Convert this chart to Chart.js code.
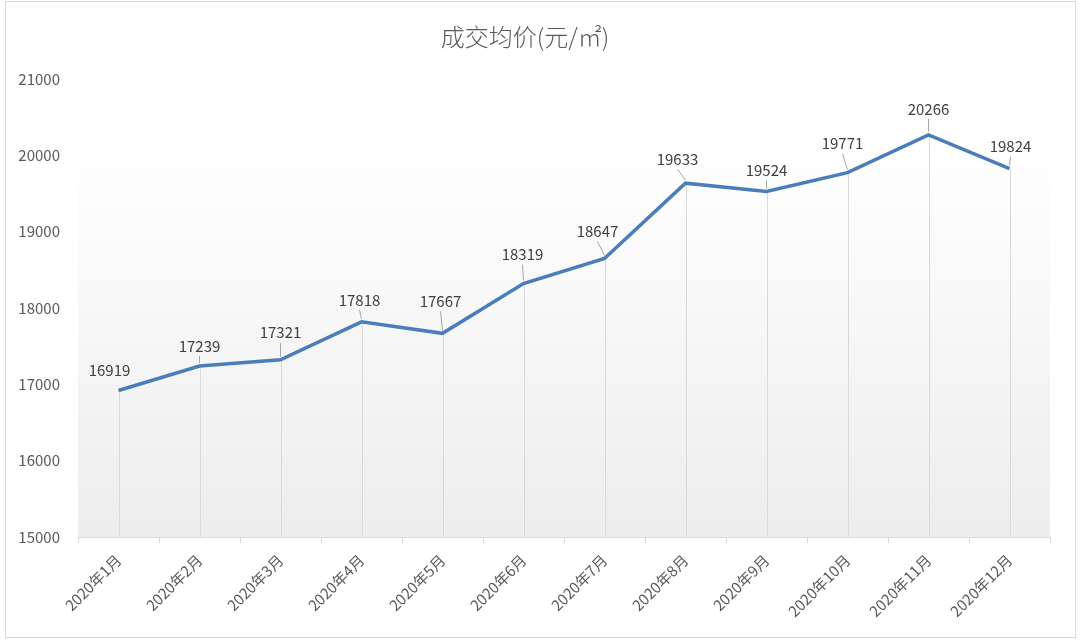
<!DOCTYPE html>
<html>
<head>
<meta charset="utf-8">
<script src="https://cdn.jsdelivr.net/npm/chart.js@4.4.0/dist/chart.umd.min.js"></script>
<style>
  html, body { margin: 0; padding: 0; background: #fff; }
  #wrap { width: 1080px; height: 644px; position: relative; }
</style>
</head>
<body>
<div id="wrap"><canvas id="chart" width="1080" height="644"></canvas></div>
<script>
var months = ['2020年1月', '2020年2月', '2020年3月', '2020年4月', '2020年5月', '2020年6月',
  '2020年7月', '2020年8月', '2020年9月', '2020年10月', '2020年11月', '2020年12月'];
var avgPrice = [16919, 17239, 17321, 17818, 17667, 18319, 18647, 19633, 19524, 19771, 20266, 19824];
var yTicks = [15000, 16000, 17000, 18000, 19000, 20000, 21000];

// where each data label sits relative to its point (like Excel dragged labels)
var labelShift = [[-9, -20, 0], [0, -20, 1], [0, -27, 1], [-2, -22, 1], [-2, -32, 1], [-1, -29, 1],
  [-7, -27, 1], [-8, -24, 1], [0, -21, 1], [-5, -29, 1], [0, -26, 1], [1, -22, 1]];

var FONT = '"Noto Sans CJK SC", "Noto Sans", sans-serif';

var decor = {
  id: 'decor',
  beforeDraw: function (c) {
    var ctx = c.ctx, a = c.chartArea;
    ctx.save();
    var g = ctx.createLinearGradient(0, a.top, 0, a.bottom);
    g.addColorStop(0, '#ffffff');
    g.addColorStop(0.15, '#ffffff');
    g.addColorStop(1, '#ededed');
    ctx.fillStyle = g;
    ctx.fillRect(a.left, a.top, a.right - a.left, a.bottom - a.top);
    ctx.strokeStyle = '#d9d9d9';
    ctx.lineWidth = 1;
    ctx.strokeRect(5.5, 1.5, 1070, 636);
    ctx.restore();
  },
  beforeDatasetsDraw: function (c) {
    var ctx = c.ctx, a = c.chartArea;
    var pts = c.getDatasetMeta(0).data;
    ctx.save();
    ctx.strokeStyle = '#d9d9d9';
    ctx.lineWidth = 1;
    pts.forEach(function (p) {
      var x = Math.round(p.x) + 0.5;
      ctx.beginPath();
      ctx.moveTo(x, p.y);
      ctx.lineTo(x, a.bottom);
      ctx.stroke();
    });
    ctx.restore();
  },
  afterDatasetsDraw: function (c) {
    var ctx = c.ctx;
    var pts = c.getDatasetMeta(0).data;
    ctx.save();
    ctx.font = '15px ' + FONT;
    ctx.textAlign = 'center';
    ctx.textBaseline = 'middle';
    pts.forEach(function (p, i) {
      var s = labelShift[i];
      var lx = p.x + s[0], ly = p.y + s[1];
      if (s[2]) {
        ctx.strokeStyle = '#a6a6a6';
        ctx.lineWidth = 1;
        ctx.beginPath();
        ctx.moveTo(p.x, p.y - 3);
        ctx.lineTo(lx, ly + 10);
        ctx.stroke();
      }
      ctx.fillStyle = '#404040';
      ctx.fillText(String(avgPrice[i]), lx, ly);
    });
    ctx.restore();
  }
};

var ctx = document.getElementById('chart').getContext('2d');
var chart = new Chart(ctx, {
  type: 'line',
  data: {
    labels: months,
    datasets: [{
      label: '成交均价',
      data: avgPrice,
      borderColor: '#4a7ebb',
      backgroundColor: '#4a7ebb',
      borderWidth: 3.5,
      pointRadius: 0,
      tension: 0,
      fill: false
    }]
  },
  options: {
    responsive: false,
    animation: false,
    layout: { padding: { left: 0, right: 30, top: 0, bottom: 0 } },
    plugins: {
      legend: { display: false },
      tooltip: { enabled: false },
      title: {
        display: true,
        text: '成交均价(元/㎡)',
        color: '#595959',
        font: { family: FONT, size: 24, weight: '300' },
        padding: { top: 22, bottom: 28 }
      }
    },
    scales: {
      x: {
        offset: true,
        grid: { offset: true, drawOnChartArea: false, drawTicks: true, tickLength: 6, color: '#d9d9d9' },
        border: { display: true, color: '#d9d9d9' },
        ticks: {
          color: '#595959',
          font: { family: FONT, size: 15 },
          minRotation: 45, maxRotation: 45,
          padding: 8
        },
        afterFit: function (s) { s.height = 107; }
      },
      y: {
        min: 15000,
        max: 21000,
        afterBuildTicks: function (s) { s.ticks = yTicks.map(function (v) { return { value: v }; }); },
        grid: { display: false, drawTicks: false },
        border: { display: false },
        ticks: {
          color: '#595959',
          font: { family: FONT, size: 15 },
          padding: 18,
          callback: function (v) { return String(v); }
        },
        afterFit: function (s) { s.width = 78; }
      }
    }
  },
  plugins: [decor]
});
</script>
</body>
</html>
